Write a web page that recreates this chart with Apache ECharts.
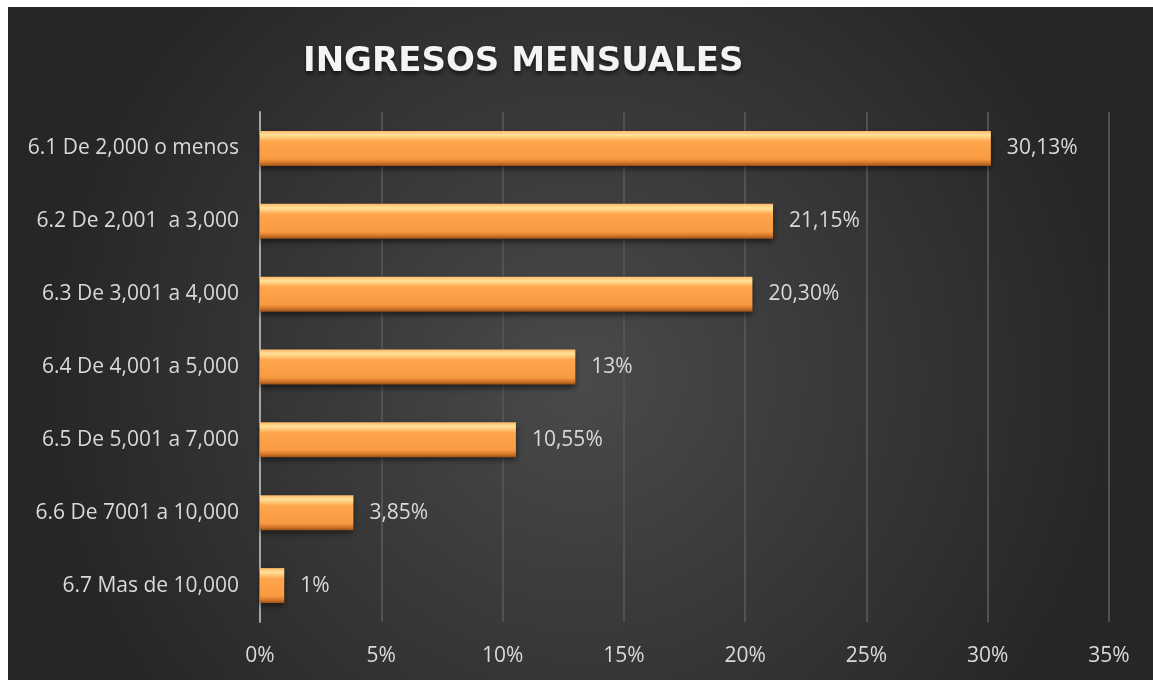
<!DOCTYPE html>
<html>
<head>
<meta charset="utf-8">
<script src="https://cdn.jsdelivr.net/npm/echarts@6/dist/echarts.min.js"></script>
<style>
    html, body { margin: 0; padding: 0; background: #ffffff; }
    #grafico { position: absolute; left: 8px; top: 7px; width: 1145px; height: 673px; }
</style>
</head>
<body>
<div id="grafico"></div>
<script>
// datos del grafico
var categorias = ['6.1 De 2,000 o menos', '6.2 De 2,001  a 3,000', '6.3 De 3,001 a 4,000', '6.4 De 4,001 a 5,000',
    '6.5 De 5,001 a 7,000', '6.6 De 7001 a 10,000', '6.7 Mas de 10,000'];
var valores = [30.13, 21.15, 20.30, 13, 10.55, 3.85, 1];
var etiquetas = ['30,13%', '21,15%', '20,30%', '13%', '10,55%', '3,85%', '1%'];
var ticksX = [0, 5, 10, 15, 20, 25, 30, 35];

var fuente = '"Open Sans", "Noto Sans", sans-serif';
var chart = echarts.init(document.getElementById('grafico'));

var option = {
    backgroundColor: {
        type: 'radial', x: 0.5, y: 0.55, r: 0.8,
        colorStops: [{ offset: 0, color: '#4a4a4a' }, { offset: 1, color: '#262626' }]
    },
    title: {
        text: 'INGRESOS MENSUALES',
        left: 290,
        top: 33,
        textStyle: {
            color: '#f4f4f4', fontFamily: '"DejaVu Sans", sans-serif', fontWeight: 'bold', fontSize: 34,
            textShadowColor: 'rgba(0,0,0,0.6)', textShadowBlur: 4, textShadowOffsetY: 3
        }
    },
    grid: { left: 252, right: 44, top: 105, bottom: 58 },
    xAxis: {
        type: 'value',
        min: ticksX[0],
        max: ticksX[ticksX.length - 1],
        interval: 5,
        axisLine: { show: false },
        axisTick: { show: false },
        axisLabel: {
            color: '#d9d9d9', fontFamily: fuente, fontSize: 21, margin: 24,
            formatter: '{value}%'
        },
        splitLine: { lineStyle: { color: '#525252', width: 2 } }
    },
    yAxis: {
        type: 'category',
        inverse: true,
        data: categorias,
        axisLine: { lineStyle: { color: '#a6a6a6', width: 2 } },
        axisTick: { show: false },
        axisLabel: { color: '#d9d9d9', fontFamily: fuente, fontSize: 21, margin: 21 }
    },
    series: [{
        type: 'bar',
        data: valores,
        barWidth: 35,
        itemStyle: {
            color: {
                type: 'linear', x: 0, y: 0, x2: 0, y2: 1,
                colorStops: [
                    { offset: 0, color: '#ffb869' },
                    { offset: 0.12, color: '#ffe29a' },
                    { offset: 0.3, color: '#ffa64d' },
                    { offset: 0.8, color: '#f89a42' },
                    { offset: 0.9, color: '#d97a2c' },
                    { offset: 1, color: '#9a5218' }
                ]
            },
            shadowColor: 'rgba(0,0,0,0.55)',
            shadowBlur: 6,
            shadowOffsetY: 3
        },
        label: {
            show: true,
            position: 'right',
            distance: 16,
            color: '#d9d9d9',
            fontFamily: fuente,
            fontSize: 21,
            formatter: function (p) { return etiquetas[p.dataIndex]; }
        }
    }]
};
chart.setOption(option);
</script>
</body>
</html>
